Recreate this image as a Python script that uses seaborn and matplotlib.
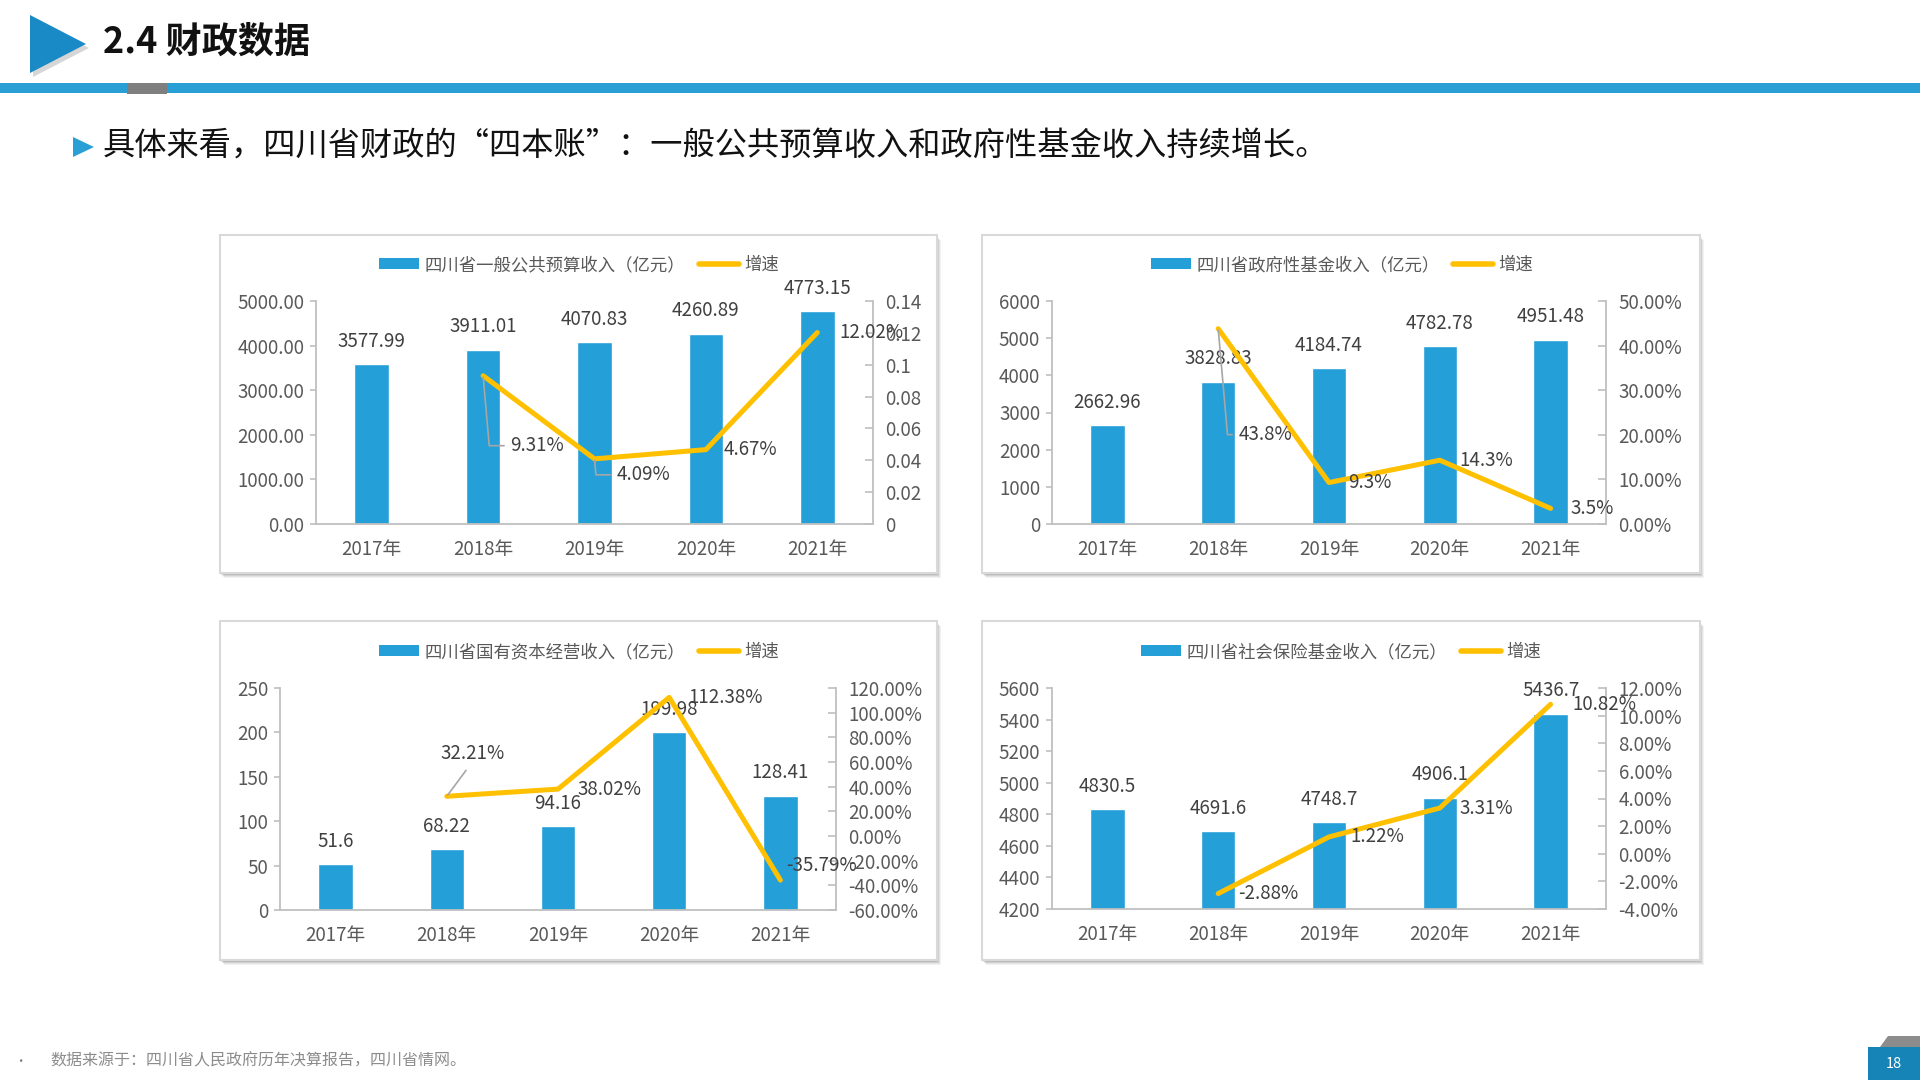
import numpy as np
import pandas as pd
import matplotlib
matplotlib.use("Agg")
import matplotlib.pyplot as plt
from matplotlib.patches import Rectangle, Polygon, Patch
from matplotlib.lines import Line2D
import seaborn as sns

# ---------------- data ----------------
years = ["2017年", "2018年", "2019年", "2020年", "2021年"]

budget_names = "四川省一般公共预算收入（亿元）"
budget_vals = [3577.99, 3911.01, 4070.83, 4260.89, 4773.15]
budget_growth = [0.0931, 0.0409, 0.0467, 0.1202]
budget_growth_lbl = ["9.31%", "4.09%", "4.67%", "12.02%"]

fund_names = "四川省政府性基金收入（亿元）"
fund_vals = [2662.96, 3828.83, 4184.74, 4782.78, 4951.48]
fund_growth = [43.8, 9.3, 14.3, 3.5]
fund_growth_lbl = ["43.8%", "9.3%", "14.3%", "3.5%"]

soe_names = "四川省国有资本经营收入（亿元）"
soe_vals = [51.6, 68.22, 94.16, 199.98, 128.41]
soe_growth = [32.21, 38.02, 112.38, -35.79]
soe_growth_lbl = ["32.21%", "38.02%", "112.38%", "-35.79%"]

ins_names = "四川省社会保险基金收入（亿元）"
ins_vals = [4830.5, 4691.6, 4748.7, 4906.1, 5436.7]
ins_growth = [-2.88, 1.22, 3.31, 10.82]
ins_growth_lbl = ["-2.88%", "1.22%", "3.31%", "10.82%"]

growth_name = "增速"

# ---------------- style ----------------
sns.set_theme(style="white")
CJK = ['Noto Sans CJK SC', 'DejaVu Sans']
plt.rcParams['font.family'] = CJK

W, H = 1920, 1080
BAR = "#259fd8"
GOLD = "#ffc000"
TXT = "#404040"
TICK = "#595959"
AXC = "#bfbfbf"
FS = 13.5

fig = plt.figure(figsize=(19.2, 10.8), dpi=100)
fig.patch.set_facecolor("white")


def rect(x0, y0, x1, y1):
    return [x0 / W, 1 - y1 / H, (x1 - x0) / W, (y1 - y0) / H]


def fx(x):
    return x / W


def fy(y):
    return 1 - y / H


# ---------------- header ----------------
fig.patches.append(Polygon([(fx(33), fy(19)), (fx(33), fy(77)), (fx(89), fy(48))],
                           closed=True, transform=fig.transFigure,
                           facecolor="#bcbcbc", edgecolor="none", alpha=0.6, zorder=1))
fig.patches.append(Polygon([(fx(30), fy(15)), (fx(30), fy(73)), (fx(86), fy(44))],
                           closed=True, transform=fig.transFigure,
                           facecolor="#1a8ac6", edgecolor="none", zorder=2))
fig.text(fx(103), fy(42), "2.4 财政数据", fontsize=26, fontweight="bold",
         color="#111111", va="center", ha="left", family=CJK)
fig.patches.append(Rectangle((0, fy(93)), 1, (93 - 83) / H, transform=fig.transFigure,
                             facecolor="#2a9fd6", edgecolor="none", zorder=2))
fig.patches.append(Rectangle((fx(127), fy(94)), (167 - 127) / W, (94 - 83) / H,
                             transform=fig.transFigure,
                             facecolor="#7f7f7f", edgecolor="none", zorder=3))

# subtitle
fig.patches.append(Polygon([(fx(73), fy(137)), (fx(73), fy(157)), (fx(94), fy(147))],
                           closed=True, transform=fig.transFigure,
                           facecolor="#2a9fd6", edgecolor="none"))
fig.text(fx(103), fy(147), "具体来看，四川省财政的“四本账”：一般公共预算收入和政府性基金收入持续增长。",
         fontsize=23.2, color="#111111", va="center", ha="left", family=CJK)

# footer
fig.text(fx(14), fy(1061), "•", fontsize=9, color="#7f7f7f", va="center", family=CJK)
fig.text(fx(50), fy(1061), "数据来源于：四川省人民政府历年决算报告，四川省情网。",
         fontsize=11.5, color="#8c8c8c", va="center", family=CJK)
fig.patches.append(Polygon([(fx(1880), fy(1047)), (fx(1888), fy(1036)), (fx(1920), fy(1036)),
                            (fx(1920), fy(1047))], closed=True, transform=fig.transFigure,
                           facecolor="#8c8c8c", edgecolor="none"))
fig.patches.append(Rectangle((fx(1868), 0), (1920 - 1868) / W, (1080 - 1047) / H,
                             transform=fig.transFigure, facecolor="#1784b8", edgecolor="none"))
fig.text(fx(1894), fy(1064), "18", fontsize=10.5, color="white", va="center", ha="center",
         family=CJK)

# ---------------- panels ----------------
# offs: (dx px, dy px (up +), kind)
panels = [
    dict(box=(220, 235, 937, 573), plot=(316, 301, 873, 524), leg=(579, 265),
         name=budget_names, vals=budget_vals, growth=budget_growth, glbl=budget_growth_lbl,
         ylim=(0, 5000), yticks=np.arange(0, 5001, 1000), yfmt="{:.2f}",
         y2lim=(0, 0.14), y2ticks=np.arange(0, 0.1401, 0.02), y2fmt="{:g}",
         vfmt="{:.2f}",
         offs=[(27, -70, "L"), (22, -16, "L"), (18, 0, ""), (22, 0, "")]),
    dict(box=(982, 235, 1700, 573), plot=(1052, 301, 1606, 524), leg=(1342, 265),
         name=fund_names, vals=fund_vals, growth=fund_growth, glbl=fund_growth_lbl,
         ylim=(0, 6000), yticks=np.arange(0, 6001, 1000), yfmt="{:.0f}",
         y2lim=(0, 50), y2ticks=np.arange(0, 50.1, 10), y2fmt="{:.2f}%",
         vfmt="{:.2f}",
         offs=[(20, -106, "L"), (19, 0, ""), (20, 0, ""), (20, 0, "")]),
    dict(box=(220, 621, 937, 960), plot=(280, 688, 836, 910), leg=(579, 652),
         name=soe_names, vals=soe_vals, growth=soe_growth, glbl=soe_growth_lbl,
         ylim=(0, 250), yticks=np.arange(0, 251, 50), yfmt="{:.0f}",
         y2lim=(-60, 120), y2ticks=np.arange(-60, 120.1, 20), y2fmt="{:.2f}%",
         vfmt="{:g}",
         offs=[(26, 43, "C"), (19, 0, ""), (19, 0, ""), (6, 15, "")]),
    dict(box=(982, 621, 1700, 960), plot=(1052, 688, 1606, 909), leg=(1341, 652),
         name=ins_names, vals=ins_vals, growth=ins_growth, glbl=ins_growth_lbl,
         ylim=(4200, 5600), yticks=np.arange(4200, 5601, 200), yfmt="{:.0f}",
         y2lim=(-4, 12), y2ticks=np.arange(-4, 12.1, 2), y2fmt="{:.2f}%",
         vfmt="{:g}",
         offs=[(20, 0, ""), (21, 0, ""), (20, 0, ""), (22, 0, "")]),
]

PX2PT = 0.72

for p in panels:
    x0, y0, x1, y1 = p["box"]
    # shadow + box
    for k, a in [(5, 0.05), (4, 0.06), (3, 0.08), (2, 0.10)]:
        fig.patches.append(Rectangle((fx(x0 + k - 1), fy(y1 + k)), (x1 - x0) / W, (y1 - y0) / H,
                                     transform=fig.transFigure, facecolor="#000000",
                                     edgecolor="none", alpha=a, zorder=-3))
    fig.patches.append(Rectangle((fx(x0), fy(y1)), (x1 - x0) / W, (y1 - y0) / H,
                                 transform=fig.transFigure, facecolor="white",
                                 edgecolor="#d9d9d9", linewidth=1.5, zorder=-2))

    ax = fig.add_axes(rect(*p["plot"]))
    ax.set_facecolor("none")
    df = pd.DataFrame({"year": years, "value": p["vals"]})
    sns.barplot(data=df, x="year", y="value", color=BAR, width=0.31, ax=ax,
                saturation=1, zorder=2)
    ax.set_xlim(-0.5, 4.5)
    ax.set_ylim(*p["ylim"])
    ax.set_yticks(p["yticks"])
    ax.set_yticklabels([p["yfmt"].format(v) for v in p["yticks"]])
    ax.set_xlabel("")
    ax.set_ylabel("")
    for s in ["top", "right"]:
        ax.spines[s].set_visible(False)
    for s in ["left", "bottom"]:
        ax.spines[s].set_color(AXC)
        ax.spines[s].set_linewidth(1.3)
    ax.tick_params(axis="y", direction="out", length=4.5, color=AXC, width=1.2,
                   labelsize=FS, labelcolor=TICK, pad=4)
    ax.tick_params(axis="x", length=0, labelsize=FS, labelcolor=TICK, pad=10.5)
    ax.grid(False)

    # value labels
    for i, v in enumerate(p["vals"]):
        ax.annotate(p["vfmt"].format(v), xy=(i, v), xytext=(0, 23 * PX2PT),
                    textcoords="offset points", ha="center", va="center",
                    fontsize=FS, color=TXT, zorder=3, annotation_clip=False)

    # growth line
    ax2 = ax.twinx()
    gx = np.arange(1, len(years))
    sns.lineplot(x=gx, y=p["growth"], ax=ax2, color=GOLD, linewidth=3.6, zorder=4,
                 solid_joinstyle="round", solid_capstyle="round")
    ax2.set_xlim(-0.5, 4.5)
    ax2.set_ylim(*p["y2lim"])
    ax2.set_yticks(p["y2ticks"])
    ax2.set_yticklabels([p["y2fmt"].format(v) for v in p["y2ticks"]])
    ax2.set_ylabel("")
    for s in ["top", "left", "bottom"]:
        ax2.spines[s].set_visible(False)
    ax2.spines["right"].set_color(AXC)
    ax2.spines["right"].set_linewidth(1.3)
    ax2.tick_params(axis="y", direction="in", length=6, color=AXC, width=1.2,
                    labelsize=FS, labelcolor=TICK, pad=9)
    ax2.grid(False)

    for j, (g, lbl) in enumerate(zip(p["growth"], p["glbl"])):
        dx, dy, kind = p["offs"][j]
        kw = dict(fontsize=FS, color=TXT, zorder=6, textcoords="offset points",
                  annotation_clip=False)
        if kind == "C":
            ax2.annotate(lbl, xy=(gx[j], g), xytext=(dx * PX2PT, dy * PX2PT),
                         ha="center", va="center",
                         arrowprops=dict(arrowstyle="-", color="#a6a6a6", lw=1.2,
                                         shrinkA=3, shrinkB=1, relpos=(0.5, 0.12)), **kw)
        elif kind == "L":
            ax2.annotate(lbl, xy=(gx[j], g), xytext=(dx * PX2PT, dy * PX2PT),
                         ha="left", va="center",
                         arrowprops=dict(arrowstyle="-", color="#a6a6a6", lw=1.2,
                                         shrinkA=2, shrinkB=1, relpos=(0, 0.5),
                                         connectionstyle="angle,angleA=0,angleB=95,rad=0"),
                         **kw)
        else:
            ax2.annotate(lbl, xy=(gx[j], g), xytext=(dx * PX2PT, dy * PX2PT),
                         ha="left", va="center", **kw)

    # legend
    handles = [Patch(facecolor=BAR, edgecolor="none", label=p["name"]),
               Line2D([0], [0], color=GOLD, linewidth=4, label=growth_name)]
    lx, ly = p["leg"]
    leg = fig.legend(handles=handles, loc="center", bbox_to_anchor=(fx(lx), fy(ly)),
                     ncol=2, frameon=False, handlelength=2.3,
                     handleheight=0.6, columnspacing=0.8, handletextpad=0.3,
                     prop={"family": CJK, "size": 12.5})
    for t in leg.get_texts():
        t.set_color(TICK)

fig.savefig("out.png", dpi=100, facecolor="white")
